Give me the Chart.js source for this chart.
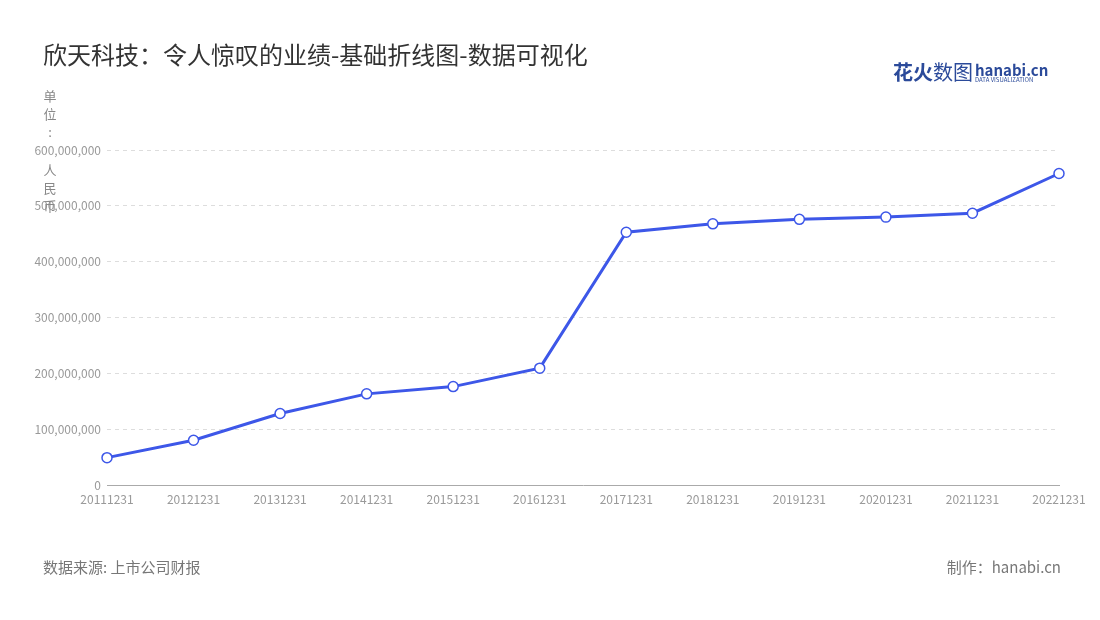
<!DOCTYPE html>
<html>
<head>
<meta charset="utf-8">
<script src="https://cdn.jsdelivr.net/npm/chart.js@4/dist/chart.umd.min.js"></script>
<style>
  body { margin: 0; background: #fff; }
  #wrap { width: 1100px; height: 620px; position: relative; }
</style>
</head>
<body>
<div id="wrap"><canvas id="c"></canvas></div>
<script>
const dates = ["20111231","20121231","20131231","20141231","20151231","20161231",
  "20171231","20181231","20191231","20201231","20211231","20221231"];
const revenue = [50000000, 81000000, 129000000, 164000000, 177000000, 210000000,
  453000000, 468000000, 476000000, 480000000, 487000000, 558000000];

const FONT = "'Noto Sans CJK SC', 'Noto Sans', sans-serif";

// title, unit, footer, logo
const decor = {
  id: "decor",
  afterDraw(chart) {
    const ctx = chart.ctx;
    ctx.save();
    ctx.textBaseline = "middle";
    ctx.fillStyle = "#333";
    ctx.font = "24px " + FONT;
    ctx.fillText("欣天科技：令人惊叹的业绩-基础折线图-数据可视化", 43, 55);
    ctx.fillStyle = "#888";
    ctx.font = "13px " + FONT;
    ctx.textAlign = "center";
    const unit = ["单", "位", ":", "人", "民", "币"];
    const unitY = [96, 114, 132, 170, 188, 206];
    unit.forEach((ch, i) => ctx.fillText(ch, 50, unitY[i]));
    ctx.textAlign = "left";
    ctx.font = "15px " + FONT;
    ctx.fillStyle = "#777";
    ctx.fillText("数据来源: 上市公司财报", 43, 567);
    ctx.textAlign = "right";
    ctx.fillText("制作：hanabi.cn", 1061, 567);
    // logo
    ctx.textAlign = "left";
    ctx.font = "bold 20px " + FONT;
    ctx.fillStyle = "#2b4a9a";
    ctx.fillText("花火", 893, 72);
    ctx.font = "20px " + FONT;
    ctx.fillText("数图", 933, 72);
    ctx.font = "bold 15px " + FONT;
    ctx.fillText("hanabi.cn", 975, 70);
    ctx.font = "6px " + FONT;
    ctx.fillText("DATA VISUALIZATION", 975, 80);
    ctx.restore();
  }
};

new Chart(document.getElementById("c"), {
  type: "line",
  data: {
    labels: dates,
    datasets: [{
      data: revenue,
      borderColor: "#3d57e8",
      borderWidth: 3,
      pointBackgroundColor: "#fff",
      pointBorderColor: "#3d57e8",
      pointBorderWidth: 1.5,
      pointRadius: 5,
      tension: 0
    }]
  },
  options: {
    responsive: true,
    maintainAspectRatio: false,
    animation: false,
    layout: { padding: { left: 0, right: 41, top: 150, bottom: 110 } },
    plugins: { legend: { display: false }, tooltip: { enabled: false } },
    scales: {
      x: {
        offset: false,
        grid: { display: false, drawTicks: true, tickLength: 4 },
        border: { color: "#aaa" },
        ticks: { color: "#999", font: { size: 12, family: FONT }, maxRotation: 0, autoSkip: false }
      },
      y: {
        min: 0, max: 600000000,
        afterFit(s) { s.width = 107; },
        grid: { color: "#ddd", drawTicks: false },
        border: { display: false, dash: [4, 4] },
        ticks: {
          stepSize: 100000000, padding: 6, color: "#999",
          font: { size: 12, family: FONT },
          callback: v => v.toLocaleString("en-US")
        }
      }
    }
  },
  plugins: [decor]
});
</script>
</body>
</html>
